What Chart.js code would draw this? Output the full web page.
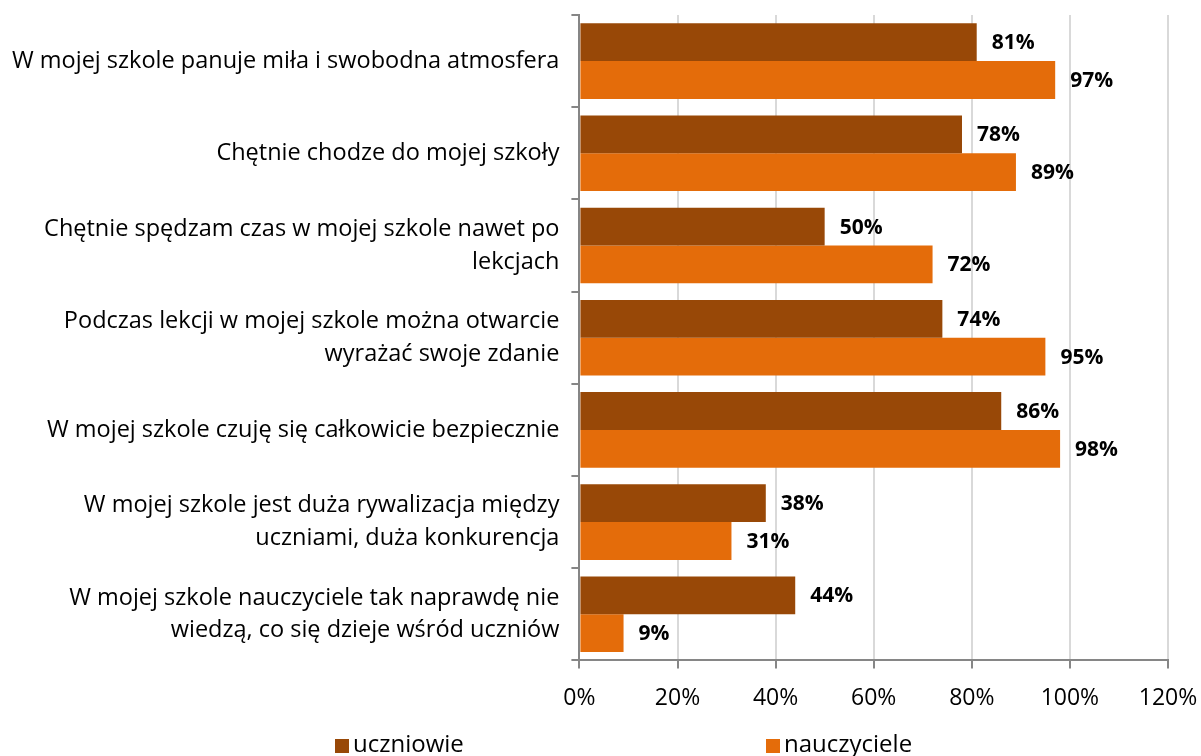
<!DOCTYPE html>
<html>
<head>
<meta charset="utf-8">
<script src="https://cdn.jsdelivr.net/npm/chart.js@4.4.1/dist/chart.umd.min.js"></script>
<style>
  html, body { margin: 0; padding: 0; background: #ffffff; }
  #wrap { width: 1201px; height: 756px; }
</style>
</head>
<body>
<div id="wrap"><canvas id="chart"></canvas></div>
<script>
// categories (multi-line labels as Excel wrapped them)
const categories = [
    ['W mojej szkole panuje miła i swobodna atmosfera'],
    ['Chętnie chodze do mojej szkoły'],
    ['Chętnie spędzam czas w mojej szkole nawet po', 'lekcjach'],
    ['Podczas lekcji w mojej szkole można otwarcie', 'wyrażać swoje zdanie'],
    ['W mojej szkole czuję się całkowicie bezpiecznie'],
    ['W mojej szkole jest duża rywalizacja między', 'uczniami, duża konkurencja'],
    ['W mojej szkole nauczyciele tak naprawdę nie', 'wiedzą, co się dzieje wśród uczniów']
]

// percent values per group
const uczniowie = [81, 78, 50, 74, 86, 38, 44]
const nauczyciele = [97, 89, 72, 95, 98, 31, 9]

const seriesNames = ['uczniowie', 'nauczyciele']
const seriesColors = ['#984807', '#E46C0A']

const fontFamily = '"Open Sans", "DejaVu Sans", sans-serif'

// draw the value labels to the right of each bar
const valueLabels = {
    id: 'valueLabels',
    afterDatasetsDraw(chart) {
        const ctx = chart.ctx
        ctx.save()
        ctx.font = 'bold 21px ' + fontFamily
        ctx.fillStyle = '#000000'
        ctx.textAlign = 'left'
        ctx.textBaseline = 'middle'
        chart.data.datasets.forEach((ds, i) => {
            chart.getDatasetMeta(i).data.forEach((bar, j) => {
                ctx.fillText(ds.data[j] + '%', bar.x + 15, bar.y + 1)
            })
        })
        ctx.restore()
    }
}

// legend at the bottom, spread out like the original
const bottomLegend = {
    id: 'bottomLegend',
    afterDraw(chart) {
        const ctx = chart.ctx
        const xs = [335, 766]
        const y = 746
        ctx.save()
        ctx.font = '24px ' + fontFamily
        ctx.textBaseline = 'middle'
        ctx.textAlign = 'left'
        chart.data.datasets.forEach((ds, i) => {
            ctx.fillStyle = ds.backgroundColor
            ctx.fillRect(xs[i], y - 7, 14, 14)
            ctx.fillStyle = '#000000'
            ctx.fillText(ds.label, xs[i] + 18, y - 1)
        })
        ctx.restore()
    }
}

new Chart(document.getElementById('chart'), {
    type: 'bar',
    data: {
        labels: categories,
        datasets: [
            { label: seriesNames[0], data: uczniowie, backgroundColor: seriesColors[0] },
            { label: seriesNames[1], data: nauczyciele, backgroundColor: seriesColors[1] }
        ]
    },
    options: {
        indexAxis: 'y',
        responsive: true,
        maintainAspectRatio: false,
        animation: false,
        layout: {
            padding: { top: 15, left: 0, right: 33, bottom: 28 }
        },
        datasets: {
            bar: { categoryPercentage: 0.82, barPercentage: 1.0 }
        },
        plugins: {
            legend: { display: false },
            tooltip: { enabled: false }
        },
        scales: {
            x: {
                min: 0,
                max: 120,
                ticks: {
                    stepSize: 20,
                    callback: v => v + '%',
                    color: '#000000',
                    font: { family: fontFamily, size: 23 },
                    padding: 16
                },
                grid: {
                    color: '#d9d9d9',
                    lineWidth: 2,
                    tickColor: '#868686',
                    tickLength: 8
                },
                border: { color: '#868686', width: 2 },
                // layout padding handles the room for the last tick label
                afterFit(scale) {
                    scale.paddingRight = 0
                    scale.paddingLeft = 0
                }
            },
            y: {
                ticks: {
                    color: '#000000',
                    font: { family: fontFamily, size: 23.5, lineHeight: 1.4 },
                    padding: 12
                },
                grid: {
                    offset: true,
                    drawOnChartArea: false,
                    color: '#868686',
                    lineWidth: 2,
                    tickLength: 8
                },
                border: { color: '#868686', width: 2 },
                // the two-line labels would otherwise push the plot down
                afterFit(scale) {
                    scale.paddingTop = 0
                    scale.paddingBottom = 0
                }
            }
        }
    },
    plugins: [valueLabels, bottomLegend]
})
</script>
</body>
</html>
